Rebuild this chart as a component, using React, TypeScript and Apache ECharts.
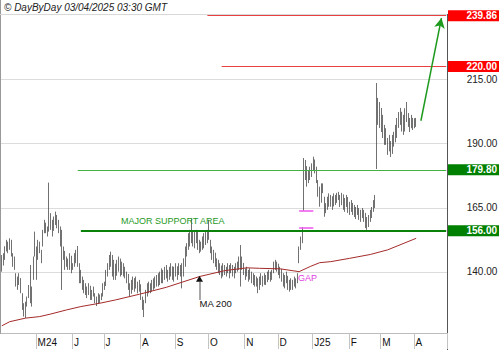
import React, { useEffect, useRef } from "react";
import * as echarts from "echarts";

// ---- categories: weekdays from 1 Apr 2024 to 29 Apr 2025 ----
const startDate = "2024-04-01";
const categoryCount = 282;
const monthLabels: Record<string, string> = {
  "2024-05": "M24", "2024-06": "J", "2024-07": "J", "2024-08": "A", "2024-09": "S",
  "2024-10": "O", "2024-11": "N", "2024-12": "D", "2025-01": "J25", "2025-02": "F",
  "2025-03": "M", "2025-04": "A",
};

// ---- daily bars [open, close, low, high] ----
const bars: number[][] = [
  [141,145,140.1,146.6],[145,146,142.5,147.3],[146,149,144.7,150],[149,151.5,148,152.5],[151.5,149,147.3,151.8],
  [149,152.5,148.6,153.1],[152,147,146,152.5],[147,143,142,147.3],[143,144.5,140.8,146],[139,135,134.3,139.5],
  [135,137,133,138.2],[137,138,134.9,139.5],[137.5,133,131.7,137.6],[131.5,126.5,125.2,131.7],[126.5,124,122.6,127.8],
  [124,127,122,128.4],[127,129.5,126.5,130.4],[130,134,129.8,134.9],[134,131,127.8,142.7],[131,128,126.5,134.3],
  [138,145,136.9,146],[146,154,146,155.7],[149,140,136.9,149.9],[145,151,144.7,152.5],[151,148.5,147.3,151.8],
  [148,144,143.4,148.6],[150,155.5,149.9,156.4],[155.5,159,155.1,160.3],[159,157,155.1,159.2],[157,155,153.8,157.7],
  [156,158,155.7,174.8],[158,161,156.4,162.9],[160,155,153.8,160.3],[156,160.5,156,161.6],[160.5,162.5,158.3,163.5],
  [162,158,157,162.2],[158,159.5,155.1,160.3],[157,151,149.9,157.7],[151,146,133,156.4],[146,148.5,144.7,149.9],
  [148,142,140.8,148.2],[142.5,145,142,146],[145,141.5,140.8,145.2],[141.5,146.5,140.8,147.3],[146,141,139.5,146.3],
  [141,143,140.8,143.4],[143,146.5,142,147.3],[146.5,144.5,143.4,148.6],[144.5,148,142,150.1],[143,137,135.6,143.4],
  [137,139,135.6,140.8],[138,134,133,138.2],[134,135.5,131.7,136.9],[135.5,132,131,135.6],[132,133.5,129.8,134.3],
  [133.5,134.5,131,135.6],[134.5,130.5,129.1,134.6],[130.5,132,129.1,133],[132,133,130.4,134.3],[131.5,129,127.8,131.7],
  [129,127.5,126.7,130.4],[127.5,131,127.5,131.7],[131,129,127.8,131.2],[129,131,129,131.7],[131,135,130.4,135.6],
  [135,134,133,136.2],[134.5,140,134.5,140.8],[140,142,138.2,143.4],[142,145.5,140.8,146.6],[145.5,146,142,147.9],
  [146,140,138.2,146.6],[140,143,136.9,144.7],[143,138,136.9,143.2],[138.5,143.5,138.5,144.7],[143.5,145,140.1,146],
  [145,139.5,138.2,145.2],[139.5,143,138.8,144],[143,141,138.2,143.4],[141,138.5,137.5,142],[138.5,139.5,135.6,140.1],
  [139,134.5,133,139.2],[134.5,131.5,130.4,135.6],[131.5,136,131.5,136.9],[136,137.5,133,138.2],[137.5,133.5,132.3,137.6],
  [133.5,137,133.5,138.2],[136,132.5,131.7,136.2],[132.5,136,132.3,136.9],[135,130,129.1,135.2],[130,126.5,125.2,130.4],
  [126.5,128,122.4,129.1],[128,132,127.8,133],[132,134.5,130.4,135.6],[134.5,133,131.7,136.2],[133,135,131.7,135.6],
  [135,136,132.3,136.9],[136,134.5,133,137.5],[134.5,137.5,133.6,138.2],[137.5,136,134.3,138.8],[136,138.5,134.3,139.5],
  [138.5,137,134.9,140.1],[137,140.5,135.6,141.4],[140.5,138,135.6,140.8],[138,141.5,136.9,142],[141.5,140,137.5,142.7],
  [140,137.5,136.2,140.8],[137.5,141,136.9,142],[141,142.5,138.2,143.4],[142,138.5,136.9,142.2],[138.5,141,136.2,142],
  [141,142.5,138.2,143.4],[142,138.5,136.9,142.2],[138.8,142.5,138.8,143.4],[142.5,139.5,138.2,142.7],[139.5,141,133.6,143.4],
  [141,144.5,138.2,145.3],[144.5,148.5,142,149.9],[148.5,150,146,151.2],[150,154,148.6,155.1],[154,151.5,149.9,156.4],
  [151.5,155.5,151.2,160.9],[155.5,151,149.9,155.7],[151,154.5,149.2,155.7],[154.5,155.5,151.2,156.4],[155.5,150,148.6,155.6],
  [150,148,147.3,152.5],[148,151,147.9,151.8],[151,153,148.6,153.8],[153,151.5,149.2,155.1],[151.5,155,150.5,155.7],
  [155,153,151.2,156.4],[153,156.5,152.5,160.3],[152,148.5,147.3,152.5],[148.5,146,144.7,149.9],[146,147.5,143.4,148.6],
  [147.5,143.5,142,147.5],[143.5,144.5,140.8,145.3],[144.5,141,139.5,144.7],[141,142.5,138.8,143.4],[142.5,139,137.5,142.5],
  [139,142.5,138.2,143.4],[142.5,140,138.8,142.7],[140,141.5,138.2,142],[141.5,142.5,139.5,143.4],[142.5,138.5,137.5,142.7],
  [139.5,142,139.5,143.4],[142,139.5,138.2,142.7],[139.5,138.5,137.5,142],[139.5,142.5,139.5,143.4],[142.5,141,140.1,144],
  [141,145,140.8,146],[145,142,134.3,150.5],[142,144,140.8,146],[143.5,139.5,138.8,143.5],[139.5,140.5,136.9,141.4],
  [140.5,139,138.2,142],[139,137,136.2,140.8],[137,140.5,137,141.4],[140,136.5,135.6,140.1],[136.5,138.5,134.9,139.5],
  [138.5,135,134.3,138.8],[135,137,134.3,138.2],[137,133,131.7,137.5],[133,136.5,133,138.2],[136.5,138.5,134.9,139.5],
  [138.5,135,134.3,138.5],[135,138.5,135,139.5],[138.5,136,134.9,138.8],[136,139.5,136,140.1],[139.5,138,136.9,140.8],
  [138,139.5,136.2,140.1],[139.5,140.5,136.9,140.8],[140.5,143.5,139.5,144],[143.5,142,140.8,144.7],[142,143,140.1,144],
  [143,139.5,138.8,143.2],[139.5,141,137.5,142],[141,137,136.2,141.2],[137,135,134.3,139.5],[135,137.5,133.6,138.8],
  [137.5,139,135.6,140.1],[138.5,134,133,138.5],[134,135.5,132.3,136.9],[135.5,133.5,133,137.5],[133.5,136,133,136.9],
  [136,134.5,134.3,138.2],[134.5,136.5,133.6,137.5],[136.5,139,135.6,139.5],[143.5,149,143.4,149.9],[149,153,148.6,153.8],
  [153,157,151.2,157.4],[164,178,163.8,184.4],[178,181,175.8,183.6],[181,175,173.2,181.2],[175,178.5,174.6,179.7],
  [178.5,177,175.8,181],[177,181.5,177,182.3],[181.5,183.5,179.7,184.9],[183.5,179.5,178.4,183.8],[179.5,176,174.6,181],
  [175,170.5,169.3,175.8],[170.5,167,165.4,173.2],[167,173.5,167,174.5],[173.5,171.5,170.7,174.5],[169,163,161.5,169.3],
  [163,166,162.9,166.8],[166,168.5,164.2,169.3],[168.5,166.5,165.4,170.6],[166.5,169.5,165.4,170],[169.5,165.5,164.2,169.5],
  [165.5,169.5,165.5,170.6],[169.5,167,166.1,170],[167,170,166.9,170.8],[170,169,168,171.2],[169,166,165.3,170],
  [166,170,166,170.8],[170,165.5,164.2,170.2],[165.5,168,163.4,168.8],[168,169,165.3,170],[169,164,163,169.2],
  [164,166.5,162.2,167.3],[166.5,165,163.4,168],[165,166,162.2,166.9],[166,162.5,161.4,166.1],[162.5,164.5,160.6,165.3],
  [164.5,163,162.2,166.1],[163,161.5,160.3,164.9],[161.5,163.5,159.5,164.2],[163.5,162,161,164.9],[162,160.5,159.5,164.2],
  [160.5,158,157.1,163],[158,157,156.4,161.4],[157.5,161,157.5,162.2],[161,160,159.5,164.2],[161,164.5,161,165.3],
  [164.5,167,163.4,168],[167,169.5,164.9,170],[183.4,207,180.1,213.6],[207,204,197.3,207.8],[204,198,196.1,206.2],
  [198,201,194.5,203.9],[201,194,192.2,201.2],[194,191,189.5,197.3],[191,195,189.5,196],[192,187,185.6,192.2],
  [187,191.5,187,193.4],[191,186,184.8,191],[186,192,186,193.4],[192,190,188.8,194.6],[190.5,196,190.5,197.3],
  [196,194,192.2,200],[196.5,201,196.1,202.3],[201,199,197.3,203.9],[199,201.5,194.7,202.4],[201,195,193.4,201.2],
  [195,202,194.7,203.8],[202,204.5,198.4,206.2],[201.5,198,196.5,201.9],[198,196,194.5,200],[196,200,196,201.2],
  [200,197,195.3,200],[197,199,196,199.9],[199,197.5,196.5,200],
];

// ---- moving average 200 (read at points, index -> value) ----
const maIndex = [0, 5, 15, 24, 31, 41, 50, 62, 72, 87, 104, 125, 141, 155, 163, 176, 188, 195, 201, 208, 220, 233, 244, 262];
const maValue = [119.0, 120.6, 122.0, 122.6, 123.6, 125.2, 126.5, 127.8, 129.1, 131.3, 134.0, 138.2, 140.5, 141.6, 141.4, 141.2, 140.1, 142.1, 143.6, 144.0, 145.3, 146.8, 148.6, 153.1];

// ---- axis / levels ----
const yMin = 116.2;
const yMax = 240.5;
const gridValues = [140, 165, 190, 215];
const levelValues = [239.86, 220.0, 179.8, 156.0];
const levelStartIndex = [130, 139, 48, 50];
const gapLevels = [157.4, 163.8];
const gapRange = [188, 197];
const gapTextPoint = [187, 137.7];
const supportTextPoint = [75, 159.9];
const maMarkerIndex = 125;
const maMarkerStem = [129.1, 136.2];
const maMarkerTip = 137.3;
const targetArrowFrom = [265, 198.9];
const targetArrowTo = [278, 238.9];

function weekdays(start: string, n: number): string[] {
  const out: string[] = [];
  const d = new Date(start + "T00:00:00Z");
  while (out.length < n) {
    const wd = d.getUTCDay();
    if (wd !== 0 && wd !== 6) out.push(d.toISOString().slice(0, 10));
    d.setUTCDate(d.getUTCDate() + 1);
  }
  return out;
}

const dates = weekdays(startDate, categoryCount);
const isMonthStart = (i: number) => i > 0 && dates[i].slice(0, 7) !== dates[i - 1].slice(0, 7);
const lastIdx = dates.length - 1;

const FONT = "'Liberation Sans', Arial, Helvetica, sans-serif";

export default function App() {
  const ref = useRef<HTMLDivElement>(null);
  useEffect(() => {
    if (!ref.current) return;
    const chart = echarts.init(ref.current, undefined, { renderer: "svg" });

    const levelColors = ["#ff0000", "#ff0000", "#008000", "#008000"];
    const levelLineColors = ["#e84040", "#e84040", "#44b044", "#0a820a"];
    const levelLineWidths = [1, 1, 1, 2];

    const gridLines = gridValues.map((v) => ({
      yAxis: v,
      lineStyle: { color: "#dcdcdc", width: 1, type: "solid" },
      label: {
        show: true, position: "end", distance: 50.3, align: "right", verticalAlign: "middle",
        formatter: v.toFixed(2), color: "#222", fontSize: 10, fontFamily: FONT,
      },
    }));

    const levelLines = levelValues.map((v, k) => [
      {
        coord: [levelStartIndex[k], v],
        lineStyle: { color: levelLineColors[k], width: levelLineWidths[k], type: "solid" },
        label: {
          show: true, position: "end", distance: 52.8, align: "right", verticalAlign: "middle",
          formatter: v.toFixed(2), color: "#fff", fontWeight: "bold", fontSize: 10, fontFamily: FONT,
          backgroundColor: levelColors[k], width: 47, lineHeight: 11, padding: [0, 2, 0, 2],
        },
      },
      { coord: [lastIdx, v] },
    ]);

    const gapLines = gapLevels.map((v) => [
      { coord: [gapRange[0], v], lineStyle: { color: "#ee55ee", width: 1.5, type: "solid" }, label: { show: false } },
      { coord: [gapRange[1], v] },
    ]);

    const option: any = {
      animation: false,
      textStyle: { fontFamily: FONT },
      title: {
        text: "© DayByDay 03/04/2025 03:30 GMT",
        left: 4, top: 2, padding: 0,
        textStyle: { fontSize: 10, fontStyle: "italic", fontWeight: "normal", color: "#222", fontFamily: FONT },
      },
      grid: { left: 1, right: 53, top: 14, bottom: 17, containLabel: false },
      xAxis: {
        type: "category",
        data: dates,
        boundaryGap: true,
        axisLine: { show: true, lineStyle: { color: "#bdbdbd", width: 1 } },
        axisTick: { show: true, interval: (i: number) => isMonthStart(i), length: 16, lineStyle: { color: "#c4c4c4", width: 1 } },
        axisLabel: {
          interval: (i: number) => isMonthStart(i),
          formatter: (v: string) => monthLabels[v.slice(0, 7)] || "",
          align: "left", color: "#111", fontSize: 10, margin: 4, padding: [0, 0, 0, 1], fontFamily: FONT,
        },
        splitLine: { show: false },
      },
      yAxis: {
        type: "value", min: yMin, max: yMax, position: "right",
        axisLine: { show: false }, axisTick: { show: false }, axisLabel: { show: false }, splitLine: { show: false },
      },
      graphic: [
        { type: "line", shape: { x1: 0.5, y1: 0, x2: 0.5, y2: 334 }, style: { stroke: "#999", lineWidth: 1 }, silent: true },
        { type: "line", shape: { x1: 0, y1: 14.5, x2: 447, y2: 14.5 }, style: { stroke: "#d8d8d8", lineWidth: 1 }, silent: true },
        { type: "line", shape: { x1: 447.5, y1: 14, x2: 447.5, y2: 350 }, style: { stroke: "#555", lineWidth: 1 }, silent: true },
      ],
      series: [
        {
          type: "candlestick",
          data: bars,
          barWidth: 1.2,
          clip: false,
          itemStyle: {
            color: "#9a9a9a", color0: "#9a9a9a",
            borderColor: "#333", borderColor0: "#333", borderWidth: 0.7,
          },
          markLine: { silent: true, z: 1, symbol: ["none", "none"], data: gridLines },
        },
        {
          type: "line",
          data: maIndex.map((x, k) => [x, maValue[k]]),
          showSymbol: false,
          symbol: "none",
          clip: false,
          lineStyle: { color: "#a52a2a", width: 1 },
          z: 3,
          markLine: {
            silent: true,
            symbol: ["none", "none"],
            data: [
              ...levelLines,
              ...gapLines,
              [
                { coord: targetArrowFrom, symbol: "none", lineStyle: { color: "#1e9a1e", width: 1.5, type: "solid" }, label: { show: false } },
                { coord: targetArrowTo, symbol: "arrow", symbolSize: [8, 10] },
              ],
              [
                {
                  coord: [maMarkerIndex, maMarkerStem[0]],
                  lineStyle: { color: "#8c8c8c", width: 1.5, type: "solid" },
                  label: {
                    show: true, position: "start", distance: 4, align: "left", verticalAlign: "middle",
                    formatter: "MA 200", color: "#111", fontSize: 9.5, fontFamily: FONT,
                  },
                },
                { coord: [maMarkerIndex, maMarkerStem[1]] },
              ],
            ],
          },
          markPoint: {
            silent: true,
            data: [
              {
                coord: [maMarkerIndex, maMarkerTip], symbol: "triangle", symbolSize: [7, 6],
                itemStyle: { color: "#111" }, label: { show: false },
              },
              {
                coord: gapTextPoint, symbol: "circle", symbolSize: 1,
                itemStyle: { color: "rgba(0,0,0,0)" },
                label: { show: true, position: "right", distance: 0, formatter: "GAP", color: "#e040e0", fontSize: 9, fontFamily: FONT },
              },
              {
                coord: supportTextPoint, symbol: "circle", symbolSize: 1,
                itemStyle: { color: "rgba(0,0,0,0)" },
                label: { show: true, position: "right", distance: 0, formatter: "MAJOR SUPPORT AREA", color: "#1f9a1f", fontSize: 9, fontFamily: FONT },
              },
            ],
          },
        },
      ],
    };
    chart.setOption(option);
    return () => chart.dispose();
  }, []);

  return (
    <div
      ref={ref}
      style={{ position: "fixed", left: 0, top: 0, width: 500, height: 350, background: "#fff" }}
    />
  );
}
